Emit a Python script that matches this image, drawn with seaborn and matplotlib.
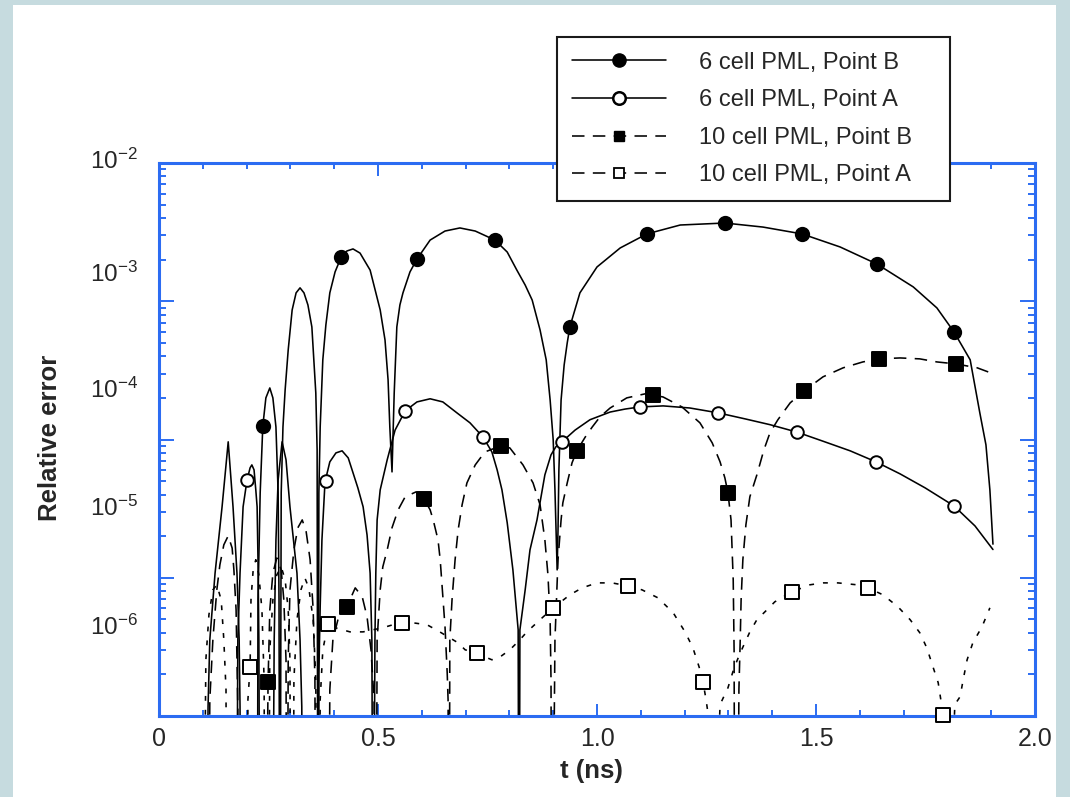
import numpy as np
import pandas as pd
import matplotlib
matplotlib.use("Agg")
import matplotlib.pyplot as plt
import seaborn as sns
from matplotlib.lines import Line2D
from matplotlib.patches import Rectangle
from matplotlib.ticker import MultipleLocator, LogLocator, NullFormatter

# ---------------- data (t in ns, relative error) ----------------
series_labels = ["6 cell PML, Point B", "6 cell PML, Point A",
                 "10 cell PML, Point B", "10 cell PML, Point A"]

xtick_vals = [0, 0.5, 1.0, 1.5, 2.0]
xtick_labels = ["0", "0.5", "1.0", "1.5", "2.0"]
ytick_labels = [r"$\mathregular{10^{-2}}$", r"$\mathregular{10^{-3}}$", r"$\mathregular{10^{-4}}$",
                r"$\mathregular{10^{-5}}$", r"$\mathregular{10^{-6}}$"]

b6_pts = [
    (0.107, 1e-8), (0.112, 1.17e-6), (0.116, 3.56e-6), (0.128, 1.08e-5), (0.144, 3.26e-5), (0.158, 9.62e-5),
    (0.169, 3.26e-5), (0.178, 1.08e-5), (0.183, 3.56e-6), (0.185, 1.17e-6), (0.187, 1e-8),
    (0.224, 1e-8), (0.226, 6.92e-6), (0.231, 4.11e-5), (0.237, 1.25e-4), (0.244, 2.00e-4), (0.253, 2.36e-4),
    (0.260, 2.00e-4), (0.267, 1.23e-4), (0.272, 4.11e-5), (0.274, 6.92e-6), (0.276, 1e-8),
    (0.279, 4.11e-5), (0.283, 1.23e-4), (0.288, 2.29e-4), (0.295, 4.45e-4), (0.304, 8.65e-4), (0.313, 1.15e-3),
    (0.322, 1.25e-3), (0.331, 1.15e-3), (0.340, 9.40e-4), (0.349, 6.52e-4), (0.358, 2.17e-4), (0.361, 8.41e-5),
    (0.363, 1e-8),
    (0.365, 4.11e-5), (0.368, 1.23e-4), (0.374, 3.77e-4), (0.381, 6.74e-4), (0.390, 1.15e-3), (0.402, 1.63e-3),
    (0.416, 2.09e-3), (0.429, 2.31e-3), (0.443, 2.39e-3), (0.459, 2.23e-3), (0.482, 1.68e-3), (0.505, 8.65e-4),
    (0.516, 5.25e-4), (0.523, 2.70e-4), (0.527, 1.23e-4), (0.532, 5.83e-5),
    (0.534, 9.93e-5), (0.537, 2.17e-4), (0.543, 6.52e-4), (0.550, 9.40e-4), (0.557, 1.15e-3), (0.573, 1.63e-3),
    (0.589, 2.02e-3), (0.619, 2.77e-3), (0.653, 3.22e-3), (0.687, 3.39e-3), (0.722, 3.22e-3), (0.767, 2.77e-3),
    (0.795, 2.27e-3), (0.817, 1.68e-3), (0.836, 1.31e-3), (0.852, 1.02e-3), (0.870, 6.20e-4), (0.884, 3.77e-4),
    (0.893, 1.93e-4), (0.900, 9.93e-5), (0.904, 4.32e-5), (0.909, 1.14e-5),
    (0.911, 2.22e-5), (0.913, 6.03e-5), (0.918, 1.93e-4), (0.925, 3.46e-4), (0.932, 4.99e-4), (0.938, 6.52e-4),
    (0.961, 1.15e-3), (1.000, 1.77e-3), (1.053, 2.43e-3), (1.114, 3.07e-3), (1.190, 3.56e-3), (1.292, 3.68e-3),
    (1.379, 3.44e-3), (1.468, 3.07e-3), (1.555, 2.47e-3), (1.639, 1.86e-3), (1.722, 1.27e-3), (1.776, 8.95e-4),
    (1.815, 6.0e-4), (1.852, 3.77e-4), (1.874, 1.56e-4), (1.888, 9.15e-5), (1.897, 4.32e-5), (1.904, 1.75e-5),
]

a6_pts = [
    (0.176, 1e-8), (0.180, 3.56e-6), (0.185, 1.08e-5), (0.192, 3.26e-5), (0.201, 5.10e-5), (0.208, 6.24e-5),
    (0.212, 6.55e-5), (0.217, 6.03e-5), (0.221, 4.32e-5), (0.224, 3.26e-5), (0.226, 1.35e-5), (0.228, 3.56e-6),
    (0.231, 1e-8),
    (0.258, 1e-8), (0.263, 3.56e-6), (0.267, 1.88e-5), (0.272, 5.10e-5), (0.281, 9.62e-5), (0.290, 7.13e-5),
    (0.299, 3.26e-5), (0.315, 1.08e-5), (0.322, 3.56e-6), (0.326, 1.17e-6), (0.329, 1e-8),
    (0.363, 1e-8), (0.365, 2.05e-6), (0.368, 6.17e-6), (0.372, 1.88e-5), (0.379, 4.93e-5), (0.390, 6.89e-5),
    (0.404, 8.0e-5), (0.418, 8.28e-5), (0.432, 7.36e-5), (0.443, 5.74e-5), (0.454, 4.47e-5), (0.466, 3.26e-5),
    (0.475, 2.04e-5), (0.482, 1.08e-5), (0.486, 3.56e-6), (0.489, 1e-8),
    (0.493, 3.56e-6), (0.495, 1.08e-5), (0.498, 2.62e-5), (0.505, 4.32e-5), (0.521, 7.13e-5), (0.539, 1.17e-4),
    (0.562, 1.61e-4), (0.589, 1.87e-4), (0.619, 1.97e-4), (0.648, 1.87e-4), (0.680, 1.56e-4), (0.710, 1.32e-4),
    (0.740, 1.04e-4), (0.760, 8.13e-5), (0.772, 6.03e-5), (0.783, 4.32e-5), (0.795, 2.50e-5), (0.808, 1.14e-5),
    (0.820, 4.20e-6), (0.822, 1e-8),
    (0.824, 4.20e-6), (0.836, 8.17e-6), (0.847, 1.59e-5), (0.863, 2.62e-5), (0.881, 5.55e-5), (0.895, 7.74e-5),
    (0.906, 8.85e-5), (0.920, 9.62e-5), (0.950, 1.17e-4), (0.984, 1.39e-4), (1.030, 1.58e-4), (1.064, 1.66e-4),
    (1.098, 1.72e-4), (1.151, 1.75e-4), (1.212, 1.69e-4), (1.276, 1.56e-4), (1.338, 1.41e-4), (1.395, 1.28e-4),
    (1.457, 1.13e-4), (1.514, 9.77e-5), (1.578, 8.28e-5), (1.637, 6.89e-5), (1.692, 5.64e-5), (1.749, 4.47e-5),
    (1.815, 3.31e-5), (1.863, 2.37e-5), (1.904, 1.60e-5),
]

b10_pts = [
    (0.112, 1e-8), (0.116, 1.31e-6), (0.123, 3.56e-6), (0.132, 8.17e-6), (0.139, 1.24e-5), (0.148, 1.73e-5),
    (0.158, 2.01e-5), (0.167, 1.64e-5), (0.171, 1.14e-5), (0.176, 5.86e-6), (0.178, 2.55e-6), (0.180, 1.11e-6),
    (0.183, 1e-8),
    (0.242, 1e-8), (0.249, 1.77e-6), (0.253, 5.86e-6), (0.260, 1.08e-5), (0.269, 1.39e-5), (0.279, 1.14e-5),
    (0.285, 6.92e-6), (0.290, 2.55e-6), (0.292, 1e-8),
    (0.295, 2.55e-6), (0.299, 8.17e-6), (0.308, 1.59e-5), (0.317, 2.30e-5), (0.327, 2.62e-5), (0.336, 2.15e-5),
    (0.345, 1.35e-5), (0.352, 5.86e-6), (0.356, 1.83e-6), (0.358, 1e-8),
    (0.386, 1e-8), (0.390, 1.55e-6), (0.397, 3.56e-6), (0.413, 5.67e-6), (0.429, 6.17e-6), (0.448, 8.45e-6),
    (0.464, 7.28e-6), (0.475, 5.22e-6), (0.484, 3.01e-6), (0.491, 1.31e-6), (0.493, 1e-8),
    (0.495, 1e-8), (0.498, 3.56e-6), (0.505, 8.17e-6), (0.511, 1.20e-5), (0.521, 1.59e-5), (0.532, 2.30e-5),
    (0.546, 3.10e-5), (0.562, 3.85e-5), (0.587, 4.18e-5), (0.605, 3.72e-5), (0.619, 3.10e-5), (0.626, 2.62e-5),
    (0.637, 1.88e-5), (0.642, 1.35e-5), (0.648, 7.28e-6), (0.653, 4.42e-6), (0.658, 2.05e-6), (0.660, 1.31e-6),
    (0.662, 1e-8),
    (0.664, 3.56e-6), (0.669, 6.92e-6), (0.676, 1.35e-5), (0.683, 2.22e-5), (0.692, 3.37e-5), (0.703, 4.85e-5),
    (0.722, 6.55e-5), (0.744, 8.13e-5), (0.781, 9.00e-5), (0.801, 8.69e-5), (0.831, 6.55e-5), (0.854, 4.85e-5),
    (0.870, 3.37e-5), (0.881, 1.88e-5), (0.888, 1.05e-5), (0.893, 4.97e-6), (0.895, 1.83e-6), (0.897, 1e-8),
    (0.904, 3.56e-6), (0.911, 1.35e-5), (0.918, 2.62e-5), (0.922, 3.48e-5), (0.932, 4.85e-5), (0.943, 6.78e-5),
    (0.954, 8.28e-5), (0.973, 1.04e-4), (0.989, 1.23e-4), (1.007, 1.46e-4), (1.030, 1.69e-4), (1.068, 2.00e-4),
    (1.110, 2.14e-4), (1.128, 2.10e-4), (1.151, 2.03e-4), (1.194, 1.72e-4), (1.235, 1.32e-4), (1.263, 9.46e-5),
    (1.281, 6.89e-5), (1.292, 5.27e-5), (1.299, 4.11e-5), (1.306, 2.62e-5), (1.311, 9.66e-6), (1.313, 3.01e-6),
    (1.315, 1e-8),
    (1.320, 1e-8), (1.324, 1.55e-6), (1.327, 3.56e-6), (1.329, 6.92e-6), (1.333, 1.35e-5), (1.340, 2.42e-5),
    (1.349, 3.85e-5), (1.365, 5.55e-5), (1.381, 8.41e-5), (1.395, 1.12e-4), (1.413, 1.39e-4), (1.441, 1.84e-4),
    (1.473, 2.25e-4), (1.516, 2.84e-4), (1.562, 3.30e-4), (1.607, 3.64e-4), (1.644, 3.83e-4), (1.692, 3.89e-4),
    (1.737, 3.83e-4), (1.776, 3.64e-4), (1.820, 3.52e-4), (1.868, 3.30e-4), (1.897, 3.05e-4),
]

a10_pts = [
    (0.100, 1e-8), (0.107, 2.55e-6), (0.114, 5.40e-6), (0.123, 8.17e-6), (0.132, 8.89e-6), (0.142, 6.92e-6),
    (0.148, 3.56e-6), (0.153, 1.55e-6), (0.155, 1e-8),
    (0.201, 1e-8), (0.203, 1.31e-6), (0.208, 2.27e-6), (0.210, 6.92e-6), (0.215, 1.14e-5), (0.221, 1.35e-5),
    (0.228, 1.05e-5), (0.235, 5.86e-6), (0.240, 1.83e-6), (0.242, 1e-8),
    (0.249, 1e-8), (0.253, 3.01e-6), (0.260, 6.92e-6), (0.269, 1.05e-5), (0.279, 1.20e-5), (0.288, 9.66e-6),
    (0.295, 5.86e-6), (0.299, 2.55e-6), (0.301, 1e-8),
    (0.306, 1e-8), (0.308, 1.83e-6), (0.315, 4.97e-6), (0.324, 8.17e-6), (0.333, 9.98e-6), (0.342, 8.45e-6),
    (0.352, 4.97e-6), (0.358, 1.83e-6), (0.361, 1e-8),
    (0.365, 1e-8), (0.368, 1.31e-6), (0.374, 3.01e-6), (0.386, 4.65e-6), (0.402, 4.35e-6), (0.436, 4.06e-6),
    (0.466, 4.06e-6), (0.511, 4.35e-6), (0.534, 4.57e-6), (0.555, 4.72e-6), (0.580, 4.72e-6), (0.612, 4.57e-6),
    (0.637, 4.13e-6), (0.660, 3.74e-6), (0.683, 3.38e-6), (0.699, 3.01e-6), (0.726, 2.86e-6), (0.744, 2.68e-6),
    (0.760, 2.55e-6), (0.779, 2.68e-6), (0.801, 3.01e-6), (0.824, 3.56e-6), (0.840, 4.06e-6), (0.870, 4.97e-6),
    (0.900, 6.06e-6), (0.938, 7.52e-6), (0.966, 8.45e-6), (1.000, 9.18e-6), (1.034, 9.18e-6), (1.071, 8.74e-6),
    (1.103, 8.17e-6), (1.139, 7.16e-6), (1.174, 5.58e-6), (1.201, 4.06e-6), (1.219, 3.11e-6), (1.233, 2.27e-6),
    (1.242, 1.77e-6), (1.249, 1.31e-6), (1.253, 1.07e-6), (1.256, 1e-8),
    (1.281, 1.21e-6), (1.299, 1.60e-6), (1.313, 2.23e-6), (1.327, 2.86e-6), (1.349, 4.06e-6), (1.365, 4.97e-6),
    (1.388, 5.86e-6), (1.406, 6.70e-6), (1.445, 7.91e-6), (1.486, 8.89e-6), (1.516, 9.18e-6), (1.550, 9.18e-6),
    (1.594, 8.89e-6), (1.619, 8.45e-6), (1.653, 7.52e-6), (1.687, 6.17e-6), (1.715, 4.97e-6), (1.737, 4.00e-6),
    (1.753, 3.11e-6), (1.767, 2.27e-6), (1.779, 1.74e-6), (1.785, 1.31e-6), (1.790, 1.05e-6), (1.792, 1e-8),
    (1.817, 1.21e-6), (1.829, 1.38e-6), (1.836, 1.83e-6), (1.845, 2.55e-6), (1.858, 3.38e-6), (1.879, 4.42e-6),
    (1.897, 6.06e-6),
]

# symbol positions (every ~0.177 ns along each curve)
b6_mk = [(0.237, 1.25e-4), (0.416, 2.09e-3), (0.589, 2.02e-3), (0.767, 2.77e-3), (0.938, 6.52e-4),
         (1.114, 3.07e-3), (1.292, 3.68e-3), (1.468, 3.07e-3), (1.639, 1.86e-3), (1.815, 6.0e-4)]
a6_mk = [(0.201, 5.10e-5), (0.381, 5.0e-5), (0.562, 1.61e-4), (0.740, 1.04e-4), (0.920, 9.62e-5),
         (1.098, 1.72e-4), (1.276, 1.56e-4), (1.457, 1.13e-4), (1.637, 6.89e-5), (1.815, 3.31e-5)]
b10_mk = [(0.249, 1.77e-6), (0.429, 6.17e-6), (0.605, 3.72e-5), (0.781, 9.00e-5), (0.954, 8.28e-5),
          (1.128, 2.10e-4), (1.299, 4.11e-5), (1.473, 2.25e-4), (1.644, 3.83e-4), (1.820, 3.52e-4)]
a10_mk = [(0.208, 2.27e-6), (0.386, 4.65e-6), (0.555, 4.72e-6), (0.726, 2.86e-6), (0.900, 6.06e-6),
          (1.071, 8.74e-6), (1.242, 1.77e-6), (1.445, 7.91e-6), (1.619, 8.45e-6), (1.790, 1.02e-6)]

# ---------------- style ----------------
sns.set_style("ticks")
plt.rcParams["font.family"] = ["Liberation Sans", "DejaVu Sans"]
plt.rcParams["mathtext.fontset"] = "custom"
plt.rcParams["mathtext.rm"] = "Liberation Sans"
plt.rcParams["mathtext.it"] = "Liberation Sans:italic"
plt.rcParams["mathtext.bf"] = "Liberation Sans:bold"
plt.rcParams["lines.scale_dashes"] = False

BLUE = "#2C6CF2"
W, H = 1070, 797

fig = plt.figure(figsize=(W / 100, H / 100), dpi=100, facecolor="#C6DBDF")
fig.patches.append(Rectangle((13 / W, 0), (1056 - 13) / W, 1 - 5 / H, transform=fig.transFigure,
                             facecolor="white", edgecolor="none", zorder=-10))
ax = fig.add_axes([159 / W, (H - 716) / H, 876 / W, 553 / H])
ax.set_facecolor("white")
ax.set_yscale("log")

dash_b = (9, 6)
dash_a = (3.5, 6.5)
LW = 1.15
specs = [
    (b6_pts, b6_mk, None, "o", "black", 92),
    (a6_pts, a6_mk, None, "o", "white", 82),
    (b10_pts, b10_mk, dash_b, "s", "black", 112),
    (a10_pts, a10_mk, dash_a, "s", "white", 105),
]
for pts, mk, dash, marker, face, size in specs:
    df = pd.DataFrame(pts, columns=["t", "err"])
    sns.lineplot(data=df, x="t", y="err", ax=ax, color="black", lw=LW,
                 sort=False, estimator=None, legend=False)
    line = ax.lines[-1]
    if dash is not None:
        line.set_dashes(dash)
    mdf = pd.DataFrame(mk, columns=["t", "err"])
    sns.scatterplot(data=mdf, x="t", y="err", ax=ax, marker=marker, s=size, color=face,
                    edgecolor="black", linewidth=1.4, zorder=5, clip_on=False, legend=False)

ax.set_xlim(0, 2.0)
ax.set_ylim(1e-6, 1e-2)
ax.set_xticks(xtick_vals)
ax.set_xticklabels(xtick_labels)
ax.xaxis.set_minor_locator(MultipleLocator(0.1))
ax.yaxis.set_major_locator(LogLocator(base=10, numticks=10))
ax.yaxis.set_minor_locator(LogLocator(base=10, subs=np.arange(2, 10), numticks=40))
ax.yaxis.set_minor_formatter(NullFormatter())
ax.tick_params(axis="both", which="both", direction="in", top=True, right=True,
               color=BLUE, labelleft=False)
ax.tick_params(axis="x", which="major", length=9, width=1.4, labelsize=18, pad=8)
ax.tick_params(axis="x", which="minor", length=4, width=1.4)
ax.tick_params(axis="y", which="major", length=10.5, width=1.4)
ax.tick_params(axis="y", which="minor", length=5, width=1.4)
for sp in ax.spines.values():
    sp.set_color(BLUE)
    sp.set_linewidth(2.2)
    sp.set_visible(True)

# y tick labels as drawn in the reference
label_y = [0.989, 0.785, 0.575, 0.362, 0.146]
for lab, yy in zip(ytick_labels, label_y):
    ax.text(-0.024, yy, lab, transform=ax.transAxes, ha="right", va="baseline", fontsize=17.5)

ax.set_xlabel("t (ns)", fontsize=18.5, fontweight="bold")
ax.xaxis.set_label_coords(0.494, -0.078)
ax.set_ylabel("Relative error", fontsize=18.5, fontweight="bold")
ax.yaxis.set_label_coords(-0.111, 0.503)

handles = [
    Line2D([], [], color="black", lw=LW, marker="o", markersize=9.5, markerfacecolor="black",
           markeredgecolor="black"),
    Line2D([], [], color="black", lw=LW, marker="o", markersize=9, markerfacecolor="white",
           markeredgecolor="black", markeredgewidth=1.8),
    Line2D([], [], color="black", lw=LW, dashes=dash_b, marker="s", markersize=7.5,
           markerfacecolor="black", markeredgecolor="black"),
    Line2D([], [], color="black", lw=LW, dashes=dash_b, marker="s", markersize=7.5,
           markerfacecolor="white", markeredgecolor="black", markeredgewidth=1.3),
]
leg = ax.legend(handles, series_labels, loc="upper left",
                bbox_to_anchor=(557 / W, 1 - 197 / H, 393 / W, 160 / H),
                bbox_transform=fig.transFigure, mode="expand", frameon=True, fancybox=False,
                fontsize=17, handlelength=4.0, handletextpad=1.4, borderpad=0.62,
                labelspacing=0.66, borderaxespad=0, numpoints=1)
leg.get_frame().set_edgecolor("#1a1a1a")
leg.get_frame().set_linewidth(1.5)
leg.get_frame().set_facecolor("white")
leg.get_frame().set_alpha(1)
leg.set_zorder(10)

fig.savefig("out.png", dpi=100, facecolor=fig.get_facecolor())
